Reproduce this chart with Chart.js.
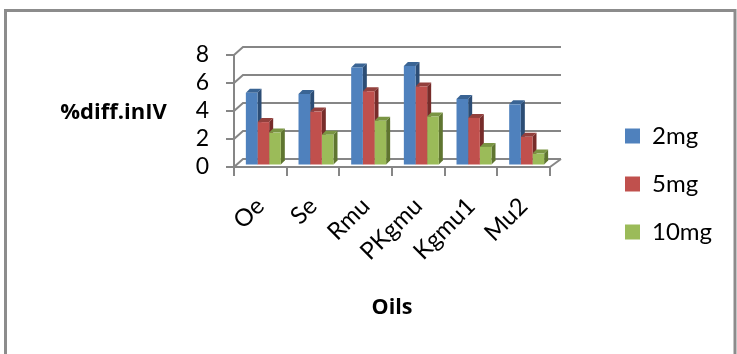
<!DOCTYPE html>
<html><head><meta charset="utf-8">
<style>html,body{margin:0;padding:0;background:#fff;overflow:hidden}#w{position:absolute;left:0;top:0;width:737px;height:354px}</style>
<script src="https://cdn.jsdelivr.net/npm/chart.js@4"></script></head>
<body><div id="w"><canvas id="c" width="737" height="354"></canvas></div>
<script>
const categories = ['Oe','Se','Rmu','PKgmu','Kgmu1','Mu2'];
const seriesNames = ['2mg','5mg','10mg'];
const values2mg = [5.2,5.1,7.0,7.1,4.75,4.37];
const values5mg = [3.1,3.85,5.3,5.65,3.4,2.05];
const values10mg = [2.35,2.2,3.2,3.5,1.33,0.85];
const yMin = 0, yMax = 8, yStep = 2;
const front = ['#4F81BD','#C0504D','#9BBB59'];
const side = ['#2C4D75','#772C2A','#5F7530'];
const top_ = ['#3A6494','#93403D','#7A9543'];
const FONT = 'Lato, "Open Sans", sans-serif';
const BOLD = '"Open Sans", sans-serif';
const AXIS = '#868686';
const DX = 9, DY = 8, BARD = 4;

const deco = {
  id:'deco',
  beforeDraw(ch){
    const c = ch.ctx; c.save();
    c.strokeStyle='#8C8C8C'; c.lineWidth=3;
    c.beginPath(); c.moveTo(5.5,355); c.lineTo(5.5,10.5); c.lineTo(735,10.5); c.lineTo(735,355); c.stroke();
    c.fillStyle='#000'; c.font='bold 22px '+BOLD; c.textAlign='center'; c.textBaseline='middle';
    c.fillText('%diff.inIV',113.5,113);
    c.restore();
  },
  beforeDatasetsDraw(ch){
    const c = ch.ctx, y = ch.scales.y, a = ch.chartArea;
    c.save(); c.strokeStyle=AXIS; c.lineWidth=2;
    y.ticks.forEach(t=>{
      const p = y.getPixelForValue(t.value);
      c.beginPath(); c.moveTo(a.left,p); c.lineTo(a.left+DX,p-DY); c.lineTo(a.right+DX+2,p-DY); c.stroke();
    });
    const b = a.bottom;
    c.beginPath(); c.moveTo(a.right+DX+2,b-DY); c.lineTo(a.right,b); c.stroke();
    c.restore();
    c.save(); c.translate(3,-1.5);
    seriesNames.forEach((n,i)=>{
      ch.getDatasetMeta(i).data.forEach(el=>{
        const w = el.width, l = el.x-w/2, r = el.x+w/2, t = el.y, bb = el.base;
        c.fillStyle = side[i];
        c.beginPath(); c.moveTo(r,t); c.lineTo(r+BARD,t-BARD); c.lineTo(r+BARD,bb-BARD); c.lineTo(r,bb); c.closePath(); c.fill();
        c.fillStyle = top_[i];
        c.beginPath(); c.moveTo(l,t); c.lineTo(l+BARD,t-BARD); c.lineTo(r+BARD,t-BARD); c.lineTo(r,t); c.closePath(); c.fill();
      });
    });
    c.restore();
    c.save(); c.translate(3,-1.5);
  },
  afterDatasetsDraw(ch){ ch.ctx.restore(); },
  afterLayout(ch){
    const L = ch.legend;
    L.left = 601; L.right = 737; L.top = 100; L.bottom = 350;
  }
};

new Chart(document.getElementById('c'),{
  type:'bar',
  data:{labels:categories,datasets:[
    {label:seriesNames[0],data:values2mg,backgroundColor:front[0]},
    {label:seriesNames[1],data:values5mg,backgroundColor:front[1]},
    {label:seriesNames[2],data:values10mg,backgroundColor:front[2]}
  ]},
  plugins:[deco],
  options:{
    responsive:false,animation:false,
    layout:{padding:{left:184,right:187,top:55,bottom:0}},
    datasets:{bar:{categoryPercentage:0.664,barPercentage:1,clip:false}},
    plugins:{
      tooltip:{enabled:false},title:{display:false},
      legend:{position:'chartArea',align:'start',
        labels:{boxWidth:15,boxHeight:15,padding:24,font:{family:FONT,size:24},color:'#000',
          generateLabels(ch){return seriesNames.map((n,i)=>({text:n,fillStyle:front[i],strokeStyle:front[i],lineWidth:0,datasetIndex:i}));}}}
    },
    scales:{
      x:{
        afterFit(s){s.height=187;},
        grid:{drawOnChartArea:false,drawTicks:true,tickLength:9,color:AXIS,lineWidth:2},
        border:{color:AXIS,width:2},
        ticks:{autoSkip:false,maxRotation:45,minRotation:45,color:'#000',padding:16,font:{family:FONT,size:24}},
        title:{display:true,text:'Oils',color:'#000',font:{family:BOLD,size:21.5,weight:'bold'},padding:{top:0,bottom:33}}
      },
      y:{
        afterFit(s){s.width=50;},
        min:yMin,max:yMax,
        grid:{drawOnChartArea:false,drawTicks:true,tickLength:8,color:AXIS,lineWidth:2},
        border:{color:AXIS,width:2},
        ticks:{autoSkip:false,stepSize:yStep,color:'#000',padding:17,font:{family:FONT,size:23}}
      }
    }
  }
});
</script></body></html>
